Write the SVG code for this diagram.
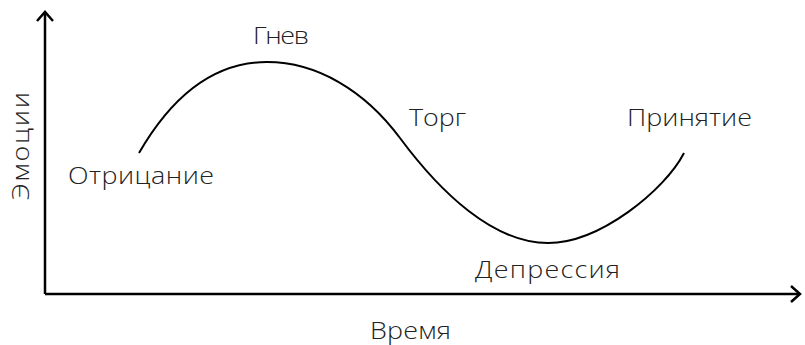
<svg xmlns="http://www.w3.org/2000/svg" width="805" height="345" viewBox="0 0 805 345">
<style>
.lbl{font-family:"Open Sans","Noto Sans","DejaVu Sans",sans-serif;font-weight:300;font-size:24px;fill:#222}
.ax{fill:none;stroke:#000;stroke-width:2.5}
.crv{fill:none;stroke:#000;stroke-width:2}
</style>
<rect width="805" height="345" fill="#fff"/>
<g id="connectors">
<path class="ax" d="M45,294 V12"/>
<path class="ax" d="M37,21 L45,12 L53,21"/>
<path class="ax" d="M45,294 H799"/>
<path class="ax" d="M791,286 L800,294 L791,302"/>
<path id="curve" class="crv" d="M139,153 C165,108 205,62 267,62 C317,62 365,90.7 400,138 C440,192 493,243 548,243 C600,243 665,190 684,153"/>
</g>
<g id="axis-y"><text class="lbl" transform="translate(29,200) rotate(-90) scale(1.12,1)" textLength="96.4" lengthAdjust="spacing">Эмоции</text></g>
<g id="axis-x"><text class="lbl" transform="translate(370,339) scale(1.12,1)" textLength="72.3" lengthAdjust="spacing">Время</text></g>
<g id="denial"><text class="lbl" transform="translate(68,184) scale(1.12,1)" textLength="130.4" lengthAdjust="spacing">Отрицание</text></g>
<g id="anger"><text class="lbl" transform="translate(253,44) scale(1.12,1)" textLength="50" lengthAdjust="spacing">Гнев</text></g>
<g id="bargain"><text class="lbl" transform="translate(409,126) scale(1.12,1)" textLength="50.9" lengthAdjust="spacing">Торг</text></g>
<g id="depression"><text class="lbl" transform="translate(475,278) scale(1.12,1)" textLength="129.5" lengthAdjust="spacing">Депрессия</text></g>
<g id="acceptance"><text class="lbl" transform="translate(627,126) scale(1.12,1)" textLength="111.6" lengthAdjust="spacing">Принятие</text></g>
</svg>
